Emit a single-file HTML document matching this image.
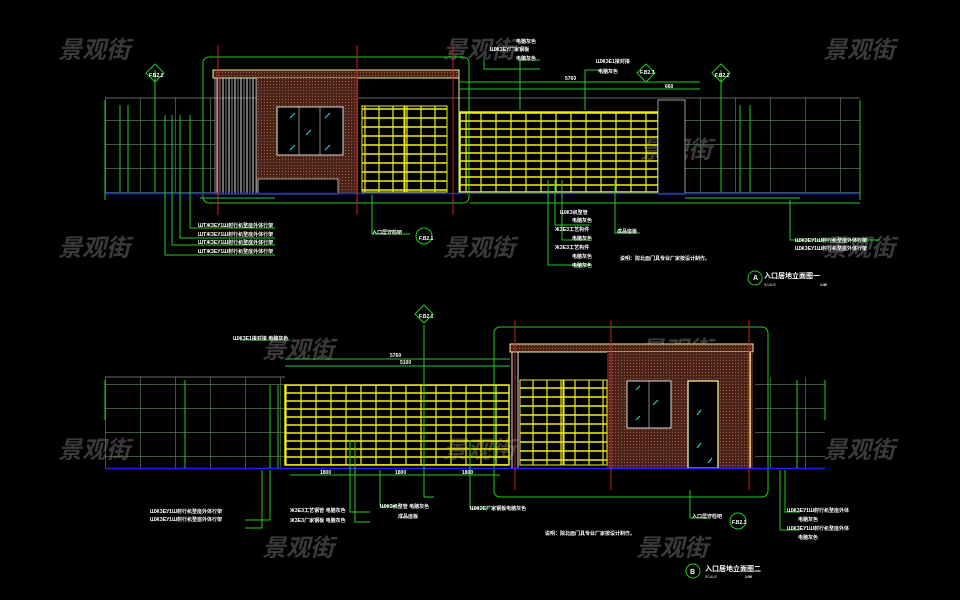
<!DOCTYPE html>
<html><head><meta charset="utf-8"><style>
html,body{margin:0;padding:0;background:#000;width:960px;height:600px;overflow:hidden}
svg{display:block}
text{font-family:"Liberation Sans","Noto Sans CJK SC",sans-serif}
.wm{fill:#3a3a3a;font-size:24px;font-style:italic;font-weight:bold}
.t{fill:#fff;font-size:5px;font-weight:bold}
.g{stroke:#2c2;fill:none;stroke-width:1}
</style></head><body>
<svg width="960" height="600" viewBox="0 0 960 600">
<defs>
<pattern id="fence" width="15" height="8" patternUnits="userSpaceOnUse">
<rect width="15" height="8" fill="none"/><line x1="0" y1="1" x2="15" y2="1" stroke="#ee2" stroke-width="1.5"/><line x1="1" y1="0" x2="1" y2="8" stroke="#ee2" stroke-width="1.2"/>
</pattern>
<pattern id="gate" width="14" height="9" patternUnits="userSpaceOnUse">
<line x1="0" y1="1" x2="14" y2="1" stroke="#ee2" stroke-width="1.5"/><line x1="1" y1="0" x2="1" y2="9" stroke="#ee2" stroke-width="1.2"/>
</pattern>
<pattern id="brick" width="3" height="3" patternUnits="userSpaceOnUse">
<rect width="3" height="3" fill="#4a2418"/><rect width="1" height="1" fill="#a05a40"/>
</pattern>
<pattern id="grid1" width="35" height="24" patternUnits="userSpaceOnUse">
<line x1="0" y1="0.5" x2="35" y2="0.5" stroke="#575" stroke-width="0.7"/><line x1="0.5" y1="0" x2="0.5" y2="24" stroke="#575" stroke-width="0.7"/>
</pattern>
<pattern id="stripe" width="6" height="10" patternUnits="userSpaceOnUse">
<line x1="1" y1="0" x2="1" y2="10" stroke="#ddd"/><line x1="4" y1="0" x2="4" y2="10" stroke="#888"/>
</pattern>
</defs>
<rect width="960" height="600" fill="#000"/>
<!-- watermarks -->
<g class="wm">
<text x="58" y="58">景观街</text><text x="443" y="58">景观街</text><text x="823" y="58">景观街</text>
<text x="640" y="158">景观街</text><text x="262" y="158">景观街</text>
<text x="58" y="256">景观街</text><text x="443" y="256">景观街</text><text x="823" y="256">景观街</text>
<text x="640" y="358">景观街</text><text x="262" y="358">景观街</text>
<text x="58" y="458">景观街</text><text x="443" y="458">景观街</text><text x="823" y="458">景观街</text>
<text x="636" y="556">景观街</text><text x="262" y="556">景观街</text>
</g>

<!-- ===== TOP ELEVATION ===== -->
<rect x="105" y="98" width="110" height="96" fill="url(#grid1)"/>
<rect x="685" y="98" width="175" height="96" fill="url(#grid1)"/>
<line x1="105" y1="98" x2="860" y2="98" stroke="#888" stroke-width="0.7"/>
<rect x="203" y="57" width="266" height="146" rx="6" class="g"/>
<rect x="213" y="70" width="246" height="8" fill="url(#brick)" stroke="#ee9"/>
<rect x="215" y="78" width="42" height="116" fill="url(#stripe)" stroke="#ddd" stroke-width="0.6"/>
<rect x="257" y="78" width="101" height="116" fill="url(#brick)"/>
<rect x="258" y="179" width="80" height="15" fill="#000" stroke="#ddd" stroke-width="0.7"/>
<rect x="277" y="107" width="66" height="48" fill="#000" stroke="#ddd" stroke-width="1"/>
<line x1="299" y1="107" x2="299" y2="155" stroke="#ddd" stroke-width="0.6"/><line x1="320" y1="107" x2="320" y2="155" stroke="#ddd" stroke-width="0.6"/>
<g stroke="#2cc" stroke-width="1.2"><line x1="290" y1="118" x2="295" y2="113"/><line x1="306" y1="135" x2="311" y2="130"/><line x1="290" y1="150" x2="295" y2="145"/><line x1="325" y1="118" x2="330" y2="113"/><line x1="325" y1="150" x2="330" y2="145"/></g>
<line x1="459" y1="78" x2="459" y2="194" stroke="#ee9"/>
<rect x="362" y="106" width="42" height="86" fill="url(#gate)" stroke="#ee2"/>
<rect x="405" y="106" width="42" height="86" fill="url(#gate)" stroke="#ee2"/>
<rect x="460" y="112" width="198" height="80" fill="url(#fence)" stroke="#ee2" stroke-width="1.5"/>
<rect x="658" y="100" width="27" height="94" fill="#000" stroke="#ddd" stroke-width="0.7"/>
<line x1="105" y1="193.5" x2="860" y2="193.5" stroke="#22e" stroke-width="1.5"/>
<g stroke="#c22" stroke-width="1"><line x1="218" y1="45" x2="218" y2="215"/><line x1="357" y1="45" x2="357" y2="215"/><line x1="453" y1="45" x2="453" y2="215"/></g>
<!-- dims top -->
<g class="g">
<line x1="459" y1="82" x2="700" y2="82"/><line x1="459" y1="89" x2="700" y2="89"/>
<line x1="120" y1="105" x2="120" y2="192"/><line x1="128" y1="105" x2="128" y2="192"/>
<line x1="740" y1="105" x2="740" y2="192"/><line x1="750" y1="105" x2="750" y2="192"/>
<line x1="105" y1="100" x2="105" y2="200"/><line x1="860" y1="100" x2="860" y2="200"/>
<line x1="685" y1="198" x2="800" y2="198"/>
<line x1="155" y1="70" x2="155" y2="192"/><line x1="721" y1="70" x2="721" y2="192"/>
<polyline points="165,115 165,255 275,255"/><polyline points="172,115 172,245 275,245"/><polyline points="180,115 180,238 275,238"/><polyline points="190,115 190,228 275,228"/>
<polyline points="372,195 372,234 410,234"/>
<polyline points="548,180 548,210 548,265 590,265"/><polyline points="555,180 555,225 590,225"/><polyline points="562,180 562,240 590,240"/>
<polyline points="615,180 615,233 640,233"/>
<polyline points="790,200 790,240 880,240"/>
<polyline points="484,60 484,69 540,69"/><polyline points="520,110 520,60 540,60"/><polyline points="585,110 585,70 600,70"/>
<line x1="470" y1="203" x2="860" y2="203"/>
<line x1="200" y1="198" x2="275" y2="198"/>
</g>
<!-- section markers -->
<g class="g" stroke-width="1.3">
<path d="M155 64 l9 9 l-9 9 l-9 -9z"/><path d="M721 64 l9 9 l-9 9 l-9 -9z"/><path d="M646 64 l9 9 l-9 9 l-9 -9z"/>
<circle cx="424" cy="236" r="8"/><circle cx="755" cy="278" r="7"/>
</g>
<g class="t">
<text x="149" y="77">F.B2.2</text><text x="715" y="77">F.B2.2</text><text x="640" y="74">F.B2.3</text>
<text x="419" y="240">F.B2.1</text>
<text x="753" y="280" font-size="7">A</text>
<text x="764" y="278" font-size="7">入口居地立面图一</text>
<text x="764" y="286" font-size="3.5" fill="#aaa">SCALE</text><text x="820" y="286" font-size="3.5">1:50</text>
<text x="198" y="227">ШТЖЗЕУ1Ш射行机整座外体行架</text>
<text x="198" y="236">ШТЖЗЕУ1Ш射行机整座外体行架</text>
<text x="198" y="244">ШТЖЗЕУ1Ш射行机整座外体行架</text>
<text x="198" y="253">ШТЖЗЕУ1Ш射行机整座外体行架</text>
<text x="372" y="234">入口居守检吧</text>
<text x="560" y="214">ШЖЗ机整管</text><text x="572" y="222">电脑灰色</text>
<text x="555" y="231">ЖЗЕЗ工艺构件</text><text x="572" y="240">电脑灰色</text>
<text x="555" y="249">ЖЗЕЗ工艺构件</text><text x="572" y="258">电脑灰色</text><text x="572" y="267">电脑灰色</text>
<text x="617" y="233">成品座板</text>
<text x="620" y="260">说明：院北面门具专业厂家按设计制作。</text>
<text x="795" y="242">ШЖЗЕУ1Ш射行机整座外体行架</text>
<text x="795" y="250">ШЖЗЕУ1Ш射行机整座外体行架</text>
<text x="516" y="43">电脑灰色</text><text x="490" y="51">ШЖЗЕУ厂家钢板</text><text x="516" y="60">电脑灰色</text>
<text x="596" y="63">ШЖЗЕ1接对接</text><text x="598" y="73">电脑灰色</text>
<text x="565" y="80">5760</text><text x="665" y="88">660</text>
</g>

<!-- ===== BOTTOM ELEVATION ===== -->
<rect x="105" y="377" width="180" height="91" fill="url(#grid1)"/>
<rect x="755" y="377" width="70" height="91" fill="url(#grid1)"/>
<line x1="105" y1="377" x2="285" y2="377" stroke="#888" stroke-width="0.7"/>
<rect x="494" y="327" width="274" height="170" rx="6" class="g" stroke-width="1.3"/>
<rect x="510" y="344" width="243" height="8" fill="url(#brick)" stroke="#ee9"/>
<rect x="607" y="352" width="146" height="116" fill="url(#brick)"/>
<line x1="750" y1="352" x2="750" y2="468" stroke="#ee9" stroke-width="1.5"/>
<line x1="512" y1="352" x2="512" y2="468" stroke="#ddd"/><line x1="518" y1="352" x2="518" y2="468" stroke="#ddd"/>
<rect x="520" y="380" width="43" height="85" fill="url(#gate)" stroke="#ee2"/>
<rect x="564" y="380" width="43" height="85" fill="url(#gate)" stroke="#ee2"/>
<rect x="627" y="381" width="44" height="47" fill="#000" stroke="#ddd" stroke-width="1"/>
<line x1="649" y1="381" x2="649" y2="428" stroke="#ddd" stroke-width="0.6"/>
<rect x="688" y="381" width="30" height="87" fill="#000" stroke="#ee9" stroke-width="1.3"/>
<g stroke="#2cc" stroke-width="1.2"><line x1="636" y1="390" x2="640" y2="386"/><line x1="653" y1="405" x2="658" y2="400"/><line x1="636" y1="420" x2="640" y2="416"/><line x1="697" y1="415" x2="701" y2="410"/><line x1="697" y1="448" x2="701" y2="443"/><line x1="708" y1="463" x2="712" y2="458"/></g>
<rect x="285" y="385" width="224" height="80" fill="url(#fence)" stroke="#ee2" stroke-width="1.5"/>
<line x1="105" y1="468.5" x2="825" y2="468.5" stroke="#22e" stroke-width="1.5"/>
<g stroke="#c22"><line x1="515" y1="320" x2="515" y2="490"/><line x1="611" y1="320" x2="611" y2="490"/><line x1="749" y1="320" x2="749" y2="490"/></g>
<g class="g">
<line x1="285" y1="359" x2="510" y2="359"/><line x1="285" y1="366" x2="510" y2="366"/>
<line x1="290" y1="475" x2="500" y2="475"/>
<line x1="424" y1="325" x2="424" y2="497"/><line x1="424" y1="497" x2="434" y2="497"/>
<line x1="105" y1="380" x2="105" y2="420"/><line x1="825" y1="380" x2="825" y2="420"/>
<line x1="270" y1="385" x2="270" y2="468"/><line x1="278" y1="385" x2="278" y2="468"/>
<line x1="185" y1="380" x2="185" y2="468"/><line x1="797" y1="380" x2="797" y2="468"/>
<polyline points="262,470 262,528 245,528"/><polyline points="270,470 270,520 245,520"/>
<polyline points="350,440 350,512 370,512"/><polyline points="355,440 355,522 370,522"/>
<polyline points="380,470 380,506 400,506"/><polyline points="470,440 470,508 490,508"/>
<polyline points="690,490 690,518 710,518"/><polyline points="785,470 785,512 800,512"/><polyline points="780,470 780,530 800,530"/>
<line x1="240" y1="340" x2="290" y2="340"/>
</g>
<g class="g" stroke-width="1.3">
<path d="M424 305 l9 9 l-9 9 l-9 -9z"/><circle cx="738" cy="521" r="8"/><circle cx="693" cy="571" r="7"/>
</g>
<g class="t">
<text x="419" y="318">F.B2.1</text><text x="732" y="524">F.B2.1</text>
<text x="690" y="574" font-size="7">B</text>
<text x="705" y="571" font-size="7">入口居地立面图二</text>
<text x="705" y="578" font-size="3.5" fill="#aaa">SCALE</text><text x="745" y="578" font-size="3.5">1:50</text>
<text x="233" y="340">ШЖЗЕ1接对接 电脑灰色</text>
<text x="150" y="513">ШЖЗЕУ1Ш射行机整座外体行架</text>
<text x="150" y="521">ШЖЗЕУ1Ш射行机整座外体行架</text>
<text x="290" y="512">ЖЗЕЗ工艺钢管 电脑灰色</text>
<text x="290" y="522">ЖЗЕЗ厂家钢板 电脑灰色</text>
<text x="380" y="508">ШЖЗ机整管 电脑灰色</text><text x="398" y="518">成品座板</text>
<text x="470" y="510">ШЖЗЕ厂家钢板电脑灰色</text>
<text x="545" y="535">说明：院北面门具专业厂家按设计制作。</text>
<text x="692" y="518">入口居守检吧</text>
<text x="787" y="512">ШЖЗЕУ1Ш射行机整座外体</text><text x="798" y="521">电脑灰色</text>
<text x="787" y="530">ШЖЗЕУ1Ш射行机整座外体</text><text x="798" y="539">电脑灰色</text>
<text x="390" y="357">5760</text><text x="400" y="364">5100</text>
<text x="320" y="474">1800</text><text x="395" y="474">1800</text><text x="462" y="474">1800</text>
</g>
</svg>
</body></html>
